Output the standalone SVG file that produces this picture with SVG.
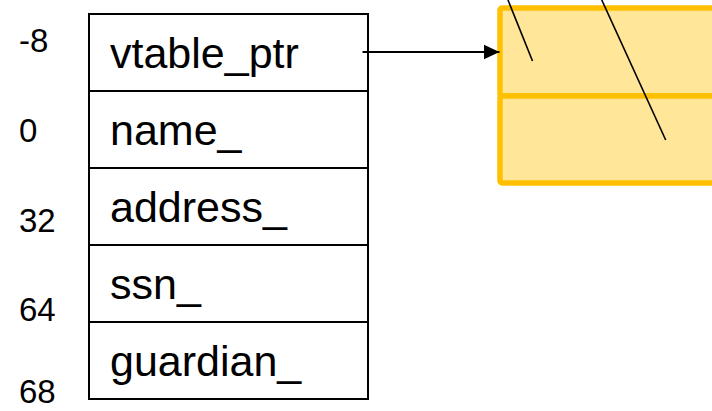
<svg xmlns="http://www.w3.org/2000/svg" width="712" height="411" viewBox="0 0 712 411">
<style>
.cell{fill:#ffffff;stroke:#000000;stroke-width:2}
.field{font-family:"Liberation Sans",Arial,sans-serif;font-size:43px;fill:#000000}
.off{font-family:"Liberation Sans",Arial,sans-serif;font-size:33px;fill:#000000}
.vt{fill:#FFE699;stroke:#FFC000;stroke-width:5.5;stroke-linejoin:round}
.ln{stroke:#000000;stroke-width:1.6;fill:none}
.arr{stroke:#000000;stroke-width:2;fill:none}
</style>
<defs>
<marker id="ah" viewBox="0 0 16 16" refX="16" refY="8" markerWidth="16" markerHeight="16" markerUnits="userSpaceOnUse" orient="auto">
<path d="M0,0.5 L16,8 L0,15.5 Z" fill="#000000"/>
</marker>
</defs>
<g id="offsets">
<text class="off" x="19" y="52">-8</text>
<text class="off" x="19" y="141.5">0</text>
<text class="off" x="19" y="232">32</text>
<text class="off" x="19" y="321">64</text>
<text class="off" x="19" y="403">68</text>
</g>
<g id="vtable">
<rect class="vt" x="500" y="8" width="240" height="88" rx="2"/>
<rect class="vt" x="500" y="96" width="240" height="87" rx="2"/>
</g>
<g id="node-vtable_ptr"><rect class="cell" x="89" y="14" width="279" height="77"/><text class="field" x="110" y="68">vtable_ptr</text></g>
<g id="node-name"><rect class="cell" x="89" y="91" width="279" height="77"/><text class="field" x="110" y="145">name_</text></g>
<g id="node-address"><rect class="cell" x="89" y="168" width="279" height="77"/><text class="field" x="110" y="222">address_</text></g>
<g id="node-ssn"><rect class="cell" x="89" y="245" width="279" height="77"/><text class="field" x="110" y="299">ssn_</text></g>
<g id="node-guardian"><rect class="cell" x="89" y="322" width="279" height="77"/><text class="field" x="110" y="376">guardian_</text></g>
<g id="connectors">
<line class="arr" x1="362.5" y1="52" x2="499.5" y2="52" marker-end="url(#ah)"/>
<line class="ln" x1="506" y1="-5" x2="532.5" y2="61"/>
<line class="ln" x1="599.5" y1="-5" x2="665.7" y2="140"/>
</g>
</svg>
